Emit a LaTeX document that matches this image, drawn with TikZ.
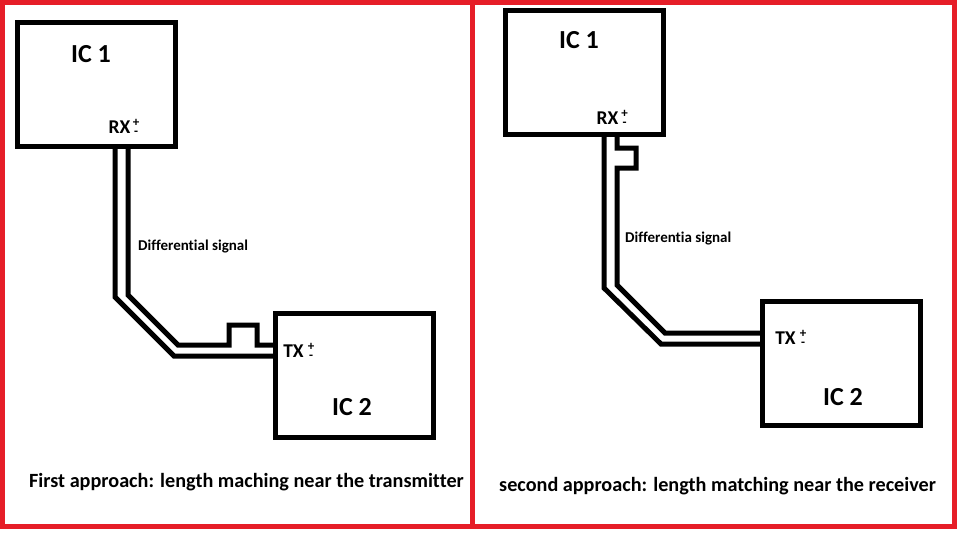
\documentclass[tikz,border=0pt]{standalone}
\usepackage{fontspec}
\setmainfont[Ligatures=NoCommon]{Carlito}
\definecolor{framered}{RGB}{230,30,40}
\tikzset{
  x=1pt,y=-1pt,
  chip/.style={draw=black,line width=5pt,fill=none,rectangle,inner sep=0pt,outer sep=0pt,minimum width=158pt,minimum height=124pt},
  wire/.style={draw=black,line width=5pt,line join=miter},
  redline/.style={draw=framered,line width=5pt},
  lab/.style={inner sep=0pt,text=black},
  iclab/.style={lab,font=\bfseries\fontsize{26}{26}\selectfont},
  pin/.style={lab,font=\bfseries\fontsize{19.5}{19.5}\selectfont},
  sign/.style={lab,align=center,anchor=base,font=\bfseries\fontsize{13}{9}\selectfont},
  captiontext/.style={lab,font=\bfseries\fontsize{20.2}{20}\selectfont,anchor=base west},
  smalltext/.style={lab,font=\bfseries\fontsize{15}{15}\selectfont,anchor=base west}
}
\begin{document}
\begin{tikzpicture}
\useasboundingbox (0,0) rectangle (961,533);
\fill[white] (0,0) rectangle (961,533);
% red frames
\draw[redline] (2,2) rectangle (472,526);
\draw[redline] (472,2) rectangle (954,526);
% left half
\node[chip] (chipA) at (96,84.5) {};
\node[chip] (chipB) at (354,375.5) {};
\node[iclab] (ic1L) at (91,54) {IC 1};
\node[iclab] (ic2L) at (352,407) {IC 2};
\node[pin] (rxL) at (119.5,127) {RX};
\node[sign] (rxsL) at (136,135) {+\\-};
\node[pin] (txL) at (293.5,351) {TX};
\node[sign] (txsL) at (311,359) {+\\-};
\draw[wire] (chipA.south -| 115,0) -- (115,297) -- (174,356) -- (chipB.west |- 0,356);
\draw[wire] (chipA.south -| 128,0) -- (128,295) -- (178,345) -- (229,345) -- (229,325) -- (257,325) -- (257,345) -- (chipB.west |- 0,345);
\node[smalltext] (dL) at (138,250) {Differential signal};
\node[captiontext] (capL) at (29,487) {First approach: length maching near the transmitter};
% right half
\node[chip] (chipC) at (584,72.5) {};
\node[chip] (chipD) at (841.5,363.5) {};
\node[iclab] (ic1R) at (579,40) {IC 1};
\node[iclab] (ic2R) at (843,397) {IC 2};
\node[pin] (rxR) at (607.5,118) {RX};
\node[sign] (rxsR) at (624.5,126) {+\\-};
\node[pin] (txR) at (785.5,338) {TX};
\node[sign] (txsR) at (803,346) {+\\-};
\draw[wire] (chipC.south -| 604,0) -- (604,288) -- (661,344) -- (chipD.west |- 0,344);
\draw[wire] (chipC.south -| 617,0) -- (617,148) -- (636,148) -- (636,168) -- (617,168) -- (617,285) -- (665,333) -- (chipD.west |- 0,333);
\node[smalltext] (dR) at (625,242) {Differentia signal};
\node[captiontext] (capR) at (499,491) {second approach: length matching near the receiver};
\end{tikzpicture}
\end{document}
